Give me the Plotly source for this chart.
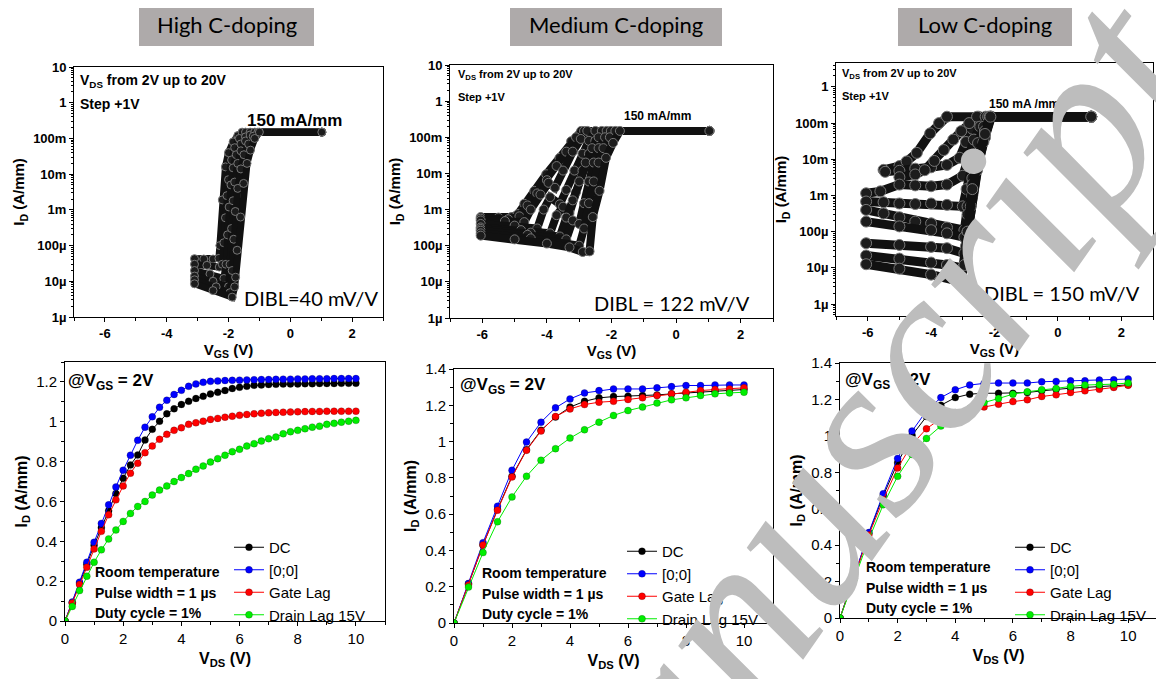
import plotly.graph_objects as go

# ---------------- Output characteristics (bottom row) ----------------
VDS_HIGH = [0, 0.25, 0.5, 0.75, 1, 1.25, 1.5, 1.75, 2, 2.25, 2.5, 2.75, 3, 3.25, 3.5, 3.75, 4, 4.25, 4.5, 4.75,
            5, 5.25, 5.5, 5.75, 6, 6.25, 6.5, 6.75, 7, 7.25, 7.5, 7.75, 8, 8.25, 8.5, 8.75, 9, 9.25, 9.5, 9.75, 10]
HIGH_DC = [0, 0.092, 0.19, 0.285, 0.38, 0.468, 0.553, 0.64, 0.717, 0.783, 0.833, 0.908, 0.962, 1.003, 1.04,
           1.065, 1.087, 1.103, 1.117, 1.128, 1.14, 1.148, 1.157, 1.167, 1.173, 1.178, 1.183, 1.185, 1.187, 1.188,
           1.189, 1.19, 1.19, 1.191, 1.191, 1.192, 1.192, 1.192, 1.193, 1.193, 1.193]
HIGH_00 = [0, 0.095, 0.195, 0.295, 0.395, 0.49, 0.583, 0.673, 0.757, 0.832, 0.907, 0.973, 1.025, 1.073, 1.108,
           1.137, 1.158, 1.178, 1.19, 1.198, 1.203, 1.205, 1.207, 1.208, 1.209, 1.21, 1.211, 1.212, 1.212, 1.213,
           1.214, 1.214, 1.215, 1.215, 1.216, 1.216, 1.216, 1.217, 1.217, 1.217, 1.217]
HIGH_GL = [0, 0.09, 0.183, 0.27, 0.362, 0.45, 0.533, 0.608, 0.678, 0.742, 0.792, 0.845, 0.878, 0.912, 0.937,
           0.957, 0.97, 0.987, 0.995, 1.003, 1.012, 1.017, 1.023, 1.028, 1.033, 1.037, 1.04, 1.043, 1.045, 1.047,
           1.048, 1.049, 1.05, 1.051, 1.052, 1.052, 1.053, 1.053, 1.053, 1.053, 1.053]
HIGH_DL = [0, 0.073, 0.153, 0.225, 0.295, 0.357, 0.412, 0.457, 0.5, 0.54, 0.575, 0.6, 0.632, 0.657, 0.678,
           0.7, 0.72, 0.74, 0.762, 0.778, 0.798, 0.815, 0.832, 0.85, 0.862, 0.878, 0.89, 0.903, 0.915, 0.923,
           0.94, 0.95, 0.957, 0.965, 0.973, 0.978, 0.987, 0.992, 0.998, 1.003, 1.007]

VDS_MED = [0, 0.5, 1, 1.5, 2, 2.5, 3, 3.5, 4, 4.5, 5, 5.5, 6, 6.5, 7, 7.5, 8, 8.5, 9, 9.5, 10]
MED_DC = [0, 0.216, 0.43, 0.626, 0.809, 0.955, 1.062, 1.135, 1.19, 1.222, 1.241, 1.248, 1.25, 1.254, 1.257,
          1.263, 1.268, 1.272, 1.277, 1.281, 1.287]
MED_00 = [0, 0.218, 0.443, 0.644, 0.842, 0.997, 1.107, 1.186, 1.235, 1.268, 1.281, 1.29, 1.29, 1.29, 1.296,
          1.303, 1.309, 1.309, 1.312, 1.312, 1.312]
MED_GL = [0, 0.21, 0.43, 0.622, 0.805, 0.952, 1.058, 1.138, 1.18, 1.204, 1.217, 1.222, 1.232, 1.241, 1.254,
          1.263, 1.272, 1.281, 1.287, 1.29, 1.296]
MED_DL = [0, 0.198, 0.388, 0.558, 0.695, 0.809, 0.897, 0.961, 1.019, 1.065, 1.107, 1.144, 1.171, 1.19, 1.212,
          1.23, 1.241, 1.254, 1.263, 1.268, 1.272]

VDS_LOW = [0, 0.5, 1, 1.5, 2, 2.5, 3, 3.5, 4, 4.5, 5, 5.5, 6, 6.5, 7, 7.5, 8, 8.5, 9, 9.5, 10]
LOW_DC = [0, 0.235, 0.465, 0.671, 0.852, 1.003, 1.106, 1.168, 1.21, 1.229, 1.234, 1.234, 1.234, 1.238, 1.247,
          1.256, 1.262, 1.266, 1.269, 1.275, 1.28]
LOW_00 = [0, 0.239, 0.469, 0.682, 0.876, 1.026, 1.137, 1.21, 1.253, 1.279, 1.288, 1.29, 1.29, 1.29, 1.297,
          1.299, 1.302, 1.302, 1.306, 1.308, 1.312]
LOW_GL = [0, 0.226, 0.456, 0.649, 0.824, 0.953, 1.039, 1.095, 1.128, 1.142, 1.159, 1.174, 1.188, 1.198, 1.216,
          1.225, 1.238, 1.247, 1.256, 1.266, 1.278]
LOW_DL = [0, 0.217, 0.432, 0.622, 0.778, 0.898, 0.986, 1.054, 1.109, 1.15, 1.183, 1.205, 1.229, 1.242, 1.253,
          1.26, 1.271, 1.279, 1.28, 1.284, 1.29]

SERIES_NAMES = ["DC", "[0;0]", "Gate Lag", "Drain Lag 15V"]
SERIES_COLORS = ["#000000", "#0000ff", "#ff0000", "#00ee00"]

# ---------------- Transfer characteristics (top row) ----------------
# High C-doping
H_VGS_1 = [-3.1, -2.8, -2.5, -2.31, -2.28, -2.2, -2.1, -2.0, -1.85, -1.7, -1.56, 1.02]
H_ID_1 = [4.3e-5, 4.2e-5, 4.2e-5, 4.4e-5, 1.0e-4, 1.9e-3, 1.6e-2, 4.0e-2, 8.0e-2, 1.2e-1, 1.5e-1, 1.5e-1]
H_VGS_2 = [-3.1, -2.7, -2.3, -2.2, -2.15, -2.1, -2.05, -2.0, -1.9, -1.8, -1.65, -1.45, 1.02]
H_ID_2 = [3.0e-5, 2.8e-5, 2.5e-5, 3.0e-5, 1.2e-4, 6e-4, 2.5e-3, 7e-3, 2.5e-2, 5.5e-2, 1.0e-1, 1.5e-1, 1.5e-1]
H_VGS_3 = [-3.1, -2.6, -2.15, -2.08, -2.03, -1.98, -1.92, -1.85, -1.75, -1.6, -1.45, -1.3, 1.02]
H_ID_3 = [2.0e-5, 1.6e-5, 1.2e-5, 3e-5, 2e-4, 1.2e-3, 5e-3, 1.5e-2, 3.5e-2, 7e-2, 1.1e-1, 1.5e-1, 1.5e-1]
H_VGS_4 = [-3.1, -2.5, -2.0, -1.95, -1.9, -1.85, -1.8, -1.7, -1.6, -1.45, -1.3, -1.15, 1.02]
H_ID_4 = [1.4e-5, 1.0e-5, 7e-6, 3e-5, 3e-4, 1.8e-3, 6e-3, 2e-2, 4.5e-2, 8.5e-2, 1.25e-1, 1.5e-1, 1.5e-1]
H_VGS_5 = [-3.1, -2.4, -1.95, -1.88, -1.83, -1.78, -1.7, -1.6, -1.5, -1.35, -1.2, -1.05, 1.02]
H_ID_5 = [1.1e-5, 7e-6, 4.8e-6, 2e-5, 1.5e-4, 9e-4, 4e-3, 1.4e-2, 3.5e-2, 7e-2, 1.15e-1, 1.5e-1, 1.5e-1]
H_VGS_6 = [-3.1, -2.5, -1.88, -1.8, -1.77, -1.72, -1.61, -1.51, -1.4, -1.29, -1.15, -1.0, 1.02]
H_ID_6 = [8.5e-6, 5.5e-6, 3.6e-6, 7e-6, 1.3e-5, 7.4e-5, 6.3e-4, 5.5e-3, 2e-2, 4.7e-2, 1.0e-1, 1.5e-1, 1.5e-1]

# Medium C-doping
M_VGS_1 = [-6.05, -5.5, -5.1, -4.9, -4.7, -4.39, -4.02, -3.61, -3.25, -2.94, 1.03]
M_ID_1 = [6.2e-4, 6.0e-4, 6.2e-4, 7.5e-4, 1.45e-3, 3.3e-3, 9.5e-3, 2.7e-2, 7.8e-2, 1.5e-1, 1.5e-1]
M_VGS_2 = [-6.05, -5.2, -4.85, -4.6, -4.3, -4.0, -3.7, -3.4, -3.1, -2.85, 1.03]
M_ID_2 = [5.6e-4, 5.4e-4, 6.5e-4, 1.3e-3, 2.8e-3, 6.5e-3, 1.6e-2, 4e-2, 1e-1, 1.5e-1, 1.5e-1]
M_VGS_3 = [-6.05, -5.3, -4.7, -4.5, -4.2, -3.95, -3.75, -3.5, -3.2, -2.95, -2.75, 1.03]
M_ID_3 = [5.0e-4, 4.8e-4, 4.5e-4, 1.0e-3, 2.6e-3, 5.5e-3, 4e-3, 1.2e-2, 4e-2, 9e-2, 1.5e-1, 1.5e-1]
M_VGS_4 = [-6.05, -5.0, -4.3, -4.1, -3.9, -3.6, -3.4, -3.15, -2.9, -2.7, -2.5, 1.03]
M_ID_4 = [4.0e-4, 3.6e-4, 3.0e-4, 1.0e-3, 2.2e-3, 1.4e-3, 3.5e-3, 1.2e-2, 3.5e-2, 8e-2, 1.5e-1, 1.5e-1]
M_VGS_5 = [-6.05, -4.8, -3.9, -3.7, -3.5, -3.3, -3.1, -2.9, -2.7, -2.5, -2.3, 1.03]
M_ID_5 = [3.2e-4, 2.7e-4, 2.2e-4, 7e-4, 1.2e-3, 8e-4, 3e-3, 1.2e-2, 3.5e-2, 8e-2, 1.5e-1, 1.5e-1]
M_VGS_6 = [-6.05, -4.5, -3.6, -3.4, -3.2, -3.0, -2.8, -2.6, -2.4, -2.15, 1.03]
M_ID_6 = [2.9e-4, 2.3e-4, 1.8e-4, 6e-4, 1.8e-3, 6e-3, 2e-2, 5e-2, 1e-1, 1.5e-1, 1.5e-1]
M_VGS_7 = [-6.05, -4.6, -3.4, -3.2, -3.0, -2.85, -2.7, -2.55, -2.4, -2.2, -2.02, 1.03]
M_ID_7 = [2.6e-4, 2.0e-4, 1.5e-4, 5e-4, 4e-4, 1.5e-3, 6e-3, 2e-2, 5e-2, 1.0e-1, 1.5e-1, 1.5e-1]
M_VGS_8 = [-6.05, -4.5, -3.0, -2.85, -2.7, -2.55, -2.4, -2.25, -2.05, -1.88, 1.03]
M_ID_8 = [2.2e-4, 1.6e-4, 1.0e-4, 3e-4, 1.5e-3, 6e-3, 2e-2, 5e-2, 1.0e-1, 1.5e-1, 1.5e-1]
M_VGS_9 = [-6.05, -5.0, -4.0, -3.3, -2.89, -2.68, -2.58, -2.37, -2.17, -1.95, -1.74, 1.03]
M_ID_9 = [1.9e-4, 1.5e-4, 1.15e-4, 9e-5, 6.7e-5, 7e-5, 6.2e-4, 3.3e-3, 2.7e-2, 7e-2, 1.5e-1, 1.5e-1]

# Low C-doping
L_VGS_1 = [-5.5, -5.0, -4.77, -4.45, -4.03, -3.75, -3.5, 1.05]
L_ID_1 = [5.1e-3, 6.5e-3, 8.7e-3, 1.5e-2, 5.2e-2, 1.0e-1, 1.5e-1, 1.5e-1]
L_VGS_2 = [-5.45, -5.0, -4.5, -4.0, -3.5, -3.1, -2.9, -2.7, -2.5, 1.05]
L_ID_2 = [4.5e-3, 4.8e-3, 5.5e-3, 6e-3, 7e-3, 1.1e-2, 3e-2, 7e-2, 1.5e-1, 1.5e-1]
L_VGS_3 = [-5.0, -4.5, -4.2, -3.9, -3.6, -3.3, -3.05, -2.8, -2.55, 1.05]
L_ID_3 = [3.2e-3, 3.8e-3, 5e-3, 9e-3, 1.8e-2, 3.5e-2, 6e-2, 1e-1, 1.5e-1, 1.5e-1]
L_VGS_4 = [-6.05, -5.6, -5.0, -4.5, -4.0, -3.5, -3.0, -2.85, -2.65, -2.45, -2.28, 1.05]
L_ID_4 = [1.15e-3, 1.3e-3, 2.0e-3, 1.9e-3, 1.8e-3, 2.0e-3, 3.5e-3, 9e-3, 3.5e-2, 8e-2, 1.5e-1, 1.5e-1]
L_VGS_5 = [-6.05, -5.5, -5.0, -4.5, -4.0, -3.5, -3.0, -2.88, -2.72, -2.52, -2.33, -2.2, 1.05]
L_ID_5 = [6.8e-4, 6.5e-4, 6.0e-4, 5.8e-4, 6e-4, 5.5e-4, 5e-4, 1.5e-3, 7e-3, 2.8e-2, 8e-2, 1.5e-1, 1.5e-1]
L_VGS_6 = [-6.05, -5.5, -5.0, -4.5, -4.0, -3.5, -2.95, -2.85, -2.7, -2.5, -2.3, -2.15, 1.05]
L_ID_6 = [4.0e-4, 3.2e-4, 2.5e-4, 1.9e-4, 1.7e-4, 1.3e-4, 1.1e-4, 5e-4, 3e-3, 1.5e-2, 6e-2, 1.5e-1, 1.5e-1]
L_VGS_7 = [-6.05, -5.0, -4.0, -3.5, -2.95, -2.85, -2.7, -2.5, -2.3, -2.12, 1.05]
L_ID_7 = [1.9e-4, 1.4e-4, 1.1e-4, 9e-5, 7e-5, 3e-4, 2e-3, 1.2e-2, 5e-2, 1.5e-1, 1.5e-1]
L_VGS_8 = [-6.05, -5.0, -4.0, -3.5, -2.95, -2.85, -2.7, -2.5, -2.3, -2.1, 1.05]
L_ID_8 = [4.8e-5, 4.3e-5, 3.8e-5, 3.5e-5, 2.5e-5, 1.0e-4, 1.0e-3, 8e-3, 4e-2, 1.5e-1, 1.5e-1]
L_VGS_9 = [-6.05, -5.0, -4.0, -3.5, -3.0, -2.9, -2.75, -2.55, -2.35, -2.12, 1.05]
L_ID_9 = [2.2e-5, 1.8e-5, 1.4e-5, 1.2e-5, 1.0e-5, 4e-5, 5e-4, 5e-3, 3e-2, 1.5e-1, 1.5e-1]
L_VGS_10 = [-6.05, -5.0, -4.0, -3.08, -2.95, -2.85, -2.7, -2.5, -2.3, -2.13, 1.05]
L_ID_10 = [1.26e-5, 9.5e-6, 6.5e-6, 4.2e-6, 1.2e-5, 1e-4, 1.5e-3, 1.2e-2, 5e-2, 1.5e-1, 1.5e-1]

LOG_TICKVALS = [10, 1, 0.1, 0.01, 0.001, 1e-4, 1e-5, 1e-6]
LOG_TICKTEXT = ["10", "1", "100m", "10m", "1m", "100µ", "10µ", "1µ"]

PANEL_TITLES = ["High C-doping", "Medium C-doping", "Low C-doping"]
DIBL_TEXT = ["DIBL=40 mV/V", "DIBL = 122 mV/V", "DIBL = 150 mV/V"]

# ---------------- layout helpers ----------------
# the page body has an 8px margin, so the figure is drawn 8px right/down
OFF = 8
FW, FH = 1156, 671

def X(x):
    return (x - OFF) / FW

def Y(y):
    return 1 - (y - OFF) / FH

def xd(a, b):
    return [X(a), X(b)]

def yd(top, bottom):
    return [Y(bottom), Y(top)]

FONT = "Liberation Sans"
fig = go.Figure()

top_sets = [
    (list(zip([H_VGS_1, H_VGS_2, H_VGS_3, H_VGS_4, H_VGS_5, H_VGS_6],
              [H_ID_1, H_ID_2, H_ID_3, H_ID_4, H_ID_5, H_ID_6])), "x", "y", 8, 7),
    (list(zip([M_VGS_1, M_VGS_2, M_VGS_3, M_VGS_4, M_VGS_5, M_VGS_6, M_VGS_7, M_VGS_8, M_VGS_9],
              [M_ID_1, M_ID_2, M_ID_3, M_ID_4, M_ID_5, M_ID_6, M_ID_7, M_ID_8, M_ID_9])), "x2", "y2", 9, 8),
    (list(zip([L_VGS_1, L_VGS_2, L_VGS_3, L_VGS_4, L_VGS_5, L_VGS_6, L_VGS_7, L_VGS_8, L_VGS_9, L_VGS_10],
              [L_ID_1, L_ID_2, L_ID_3, L_ID_4, L_ID_5, L_ID_6, L_ID_7, L_ID_8, L_ID_9, L_ID_10])), "x3", "y3", 11, 9),
]
for curves, xa, ya, ms, lw in top_sets:
    for vx, iy in curves:
        fig.add_trace(go.Scatter(
            x=vx, y=iy, mode="lines+markers", xaxis=xa, yaxis=ya, showlegend=False,
            hoverinfo="skip",
            line=dict(color="#111111", width=lw),
            marker=dict(size=ms, color="#1c1c1c", line=dict(color="#777777", width=1)),
        ))

bottom_sets = [
    (VDS_HIGH, [HIGH_DC, HIGH_00, HIGH_GL, HIGH_DL], "x4", "y4", "legend"),
    (VDS_MED, [MED_DC, MED_00, MED_GL, MED_DL], "x5", "y5", "legend2"),
    (VDS_LOW, [LOW_DC, LOW_00, LOW_GL, LOW_DL], "x6", "y6", "legend3"),
]
for vds, ys, xa, ya, lg in bottom_sets:
    for name, col, yv in zip(SERIES_NAMES, SERIES_COLORS, ys):
        fig.add_trace(go.Scatter(
            x=vds, y=yv, name=name, mode="lines+markers", xaxis=xa, yaxis=ya, legend=lg,
            line=dict(color=col, width=1),
            marker=dict(size=7, color=col, line=dict(color="rgba(0,0,0,0.35)", width=0.6)),
        ))

minor_log = [m * 10 ** d for d in range(-7, 1) for m in range(2, 10)]

def base_axis(**kw):
    d = dict(showline=True, linecolor="black", linewidth=1, mirror=True, showgrid=False,
             zeroline=False, ticks="outside", ticklen=4, tickcolor="black", automargin=False)
    d.update(kw)
    return d

top_dom = [(74, 383, 67, 317), (450, 773, 65, 318), (836, 1153, 63, 316)]
top_yrange = [[-6, 1], [-6, 1], [-6.33, 0.66]]
title_font_top = dict(family=FONT, size=15, color="black", weight="bold")
tick_font_top = dict(family=FONT, size=13, color="black", weight="bold")
for i, (x0, x1, y0, y1) in enumerate(top_dom):
    s = "" if i == 0 else str(i + 1)
    fig.layout["xaxis" + s] = base_axis(
        domain=xd(x0, x1), anchor="y" + s, range=[-7, 3],
        tickvals=[-6, -4, -2, 0, 2], ticktext=["-6", "-4", "-2", "0", "2"],
        minor=dict(tickvals=[-7, -5, -3, -1, 1, 3], ticks="outside", ticklen=3, tickcolor="black"),
        tickfont=tick_font_top,
        title=dict(text="V<sub>GS</sub> (V)", font=title_font_top, standoff=2))
    fig.layout["yaxis" + s] = base_axis(
        domain=yd(y0, y1), anchor="x" + s, type="log", range=top_yrange[i],
        tickvals=LOG_TICKVALS, ticktext=LOG_TICKTEXT,
        minor=dict(tickvals=minor_log, ticks="outside", ticklen=2, tickcolor="black"),
        tickfont=tick_font_top,
        title=dict(text="I<sub>D</sub> (A/mm)", font=title_font_top, standoff=4))

bot_dom = [(65, 385, 362, 621), (454, 773, 369, 623), (840, 1157, 363, 618)]
bot_yrange = [[0, 1.3], [0, 1.4], [0, 1.4]]
bot_ytick = [
    ([0, 0.2, 0.4, 0.6, 0.8, 1.0, 1.2], ["0", "0.2", "0.4", "0.6", "0.8", "1", "1.2"]),
    ([0, 0.2, 0.4, 0.6, 0.8, 1.0, 1.2, 1.4], ["0", "0.2", "0.4", "0.6", "0.8", "1", "1.2", "1.4"]),
    ([0, 0.2, 0.4, 0.6, 0.8, 1.0, 1.2, 1.4], ["0", "0.2", "0.4", "0.6", "0.8", "1", "1.2", "1.4"]),
]
tick_font_bot = dict(family=FONT, size=15, color="black")
for i, (x0, x1, y0, y1) in enumerate(bot_dom):
    s = str(i + 4)
    fig.layout["xaxis" + s] = base_axis(
        domain=xd(x0, x1), anchor="y" + s, range=[0, 11],
        tickvals=[0, 2, 4, 6, 8, 10],
        minor=dict(tickvals=[1, 3, 5, 7, 9, 11], ticks="outside", ticklen=3, tickcolor="black"),
        tickfont=tick_font_bot,
        title=dict(text="V<sub>DS</sub> (V)", font=dict(family=FONT, size=16, color="black", weight="bold"),
                   standoff=6))
    fig.layout["yaxis" + s] = base_axis(
        domain=yd(y0, y1), anchor="x" + s, range=bot_yrange[i],
        tickvals=bot_ytick[i][0], ticktext=bot_ytick[i][1],
        minor=dict(tickvals=[0.1, 0.3, 0.5, 0.7, 0.9, 1.1, 1.3], ticks="outside", ticklen=3, tickcolor="black"),
        tickfont=tick_font_bot,
        title=dict(text="I<sub>D</sub> (A/mm)", font=dict(family=FONT, size=16, color="black", weight="bold"),
                   standoff=4))

# legends
leg_pos = [(229, 531), (622, 535), (1010, 531)]
for i, (lx, ly) in enumerate(leg_pos):
    key = "legend" if i == 0 else "legend" + str(i + 1)
    fig.layout[key] = dict(x=X(lx), y=Y(ly), xanchor="left", yanchor="top",
                           bgcolor="rgba(0,0,0,0)", borderwidth=0, tracegroupgap=0,
                           font=dict(family=FONT, size=15, color="black"), itemwidth=30)

ann = []
# Panel title boxes
boxes = [(139, 314), (510, 722), (898, 1072)]
shapes = []
for (b0, b1), t in zip(boxes, PANEL_TITLES):
    shapes.append(dict(type="rect", xref="paper", yref="paper", x0=X(b0), x1=X(b1), y0=Y(46), y1=Y(4),
                       fillcolor="#aeaaaa", line=dict(width=0), layer="below"))
    ann.append(dict(text=t, x=X((b0 + b1) / 2), y=Y(25), xref="paper", yref="paper", showarrow=False,
                    xanchor="center", yanchor="middle", font=dict(family="Lato", size=22, color="black")))

# top panel texts
top_txt = [
    dict(v=(78, 81, 14), s=(78, 104, 14), c=(294, 120, 17), d=(380, 298, 20)),
    dict(v=(456, 75, 11), s=(456, 97, 11), c=(657, 116, 12), d=(752, 303, 20)),
    dict(v=(840, 74, 11), s=(840, 96, 11), c=(1024, 104, 12), d=(1142, 293, 20)),
]
for i, t in enumerate(top_txt):
    ann.append(dict(text="V<sub>DS</sub> from 2V up to 20V", x=X(t["v"][0]), y=Y(t["v"][1]),
                    xref="paper", yref="paper", showarrow=False, xanchor="left", yanchor="middle",
                    font=dict(family=FONT, size=t["v"][2], color="black", weight="bold")))
    ann.append(dict(text="Step +1V", x=X(t["s"][0]), y=Y(t["s"][1]),
                    xref="paper", yref="paper", showarrow=False, xanchor="left", yanchor="middle",
                    font=dict(family=FONT, size=t["s"][2], color="black", weight="bold")))
    ann.append(dict(text="150 mA/mm" if i < 2 else "150 mA /mm", x=X(t["c"][0]), y=Y(t["c"][1]),
                    xref="paper", yref="paper", showarrow=False, xanchor="center", yanchor="middle",
                    font=dict(family=FONT, size=t["c"][2], color="black", weight="bold")))
    ann.append(dict(text=DIBL_TEXT[i], x=X(t["d"][0]), y=Y(t["d"][1]),
                    xref="paper", yref="paper", showarrow=False, xanchor="right", yanchor="middle",
                    font=dict(family="Lato", size=t["d"][2], color="black")))

# bottom panel texts
bot_txt = [((66, 382), (93, 572)), ((458, 386), (480, 573)), ((843, 381), (864, 567))]
for (gx, gy), (nx, ny) in bot_txt:
    ann.append(dict(text="@V<sub>GS</sub> = 2V", x=X(gx), y=Y(gy), xref="paper", yref="paper",
                    showarrow=False, xanchor="left", yanchor="middle",
                    font=dict(family=FONT, size=17, color="black", weight="bold")))
    for k, line in enumerate(["Room temperature", "Pulse width = 1 µs", "Duty cycle = 1%"]):
        ann.append(dict(text=line, x=X(nx), y=Y(ny + 20.5 * k), xref="paper", yref="paper",
                        showarrow=False, xanchor="left", yanchor="middle",
                        font=dict(family=FONT, size=14, color="black", weight="bold")))

# watermark
ann.append(dict(text="<i>manuscript</i>", x=X(837), y=Y(470), xref="paper", yref="paper", showarrow=False,
                xanchor="center", yanchor="middle", textangle=-55,
                font=dict(family="Liberation Serif", size=240, color="#bdbdbd")))

fig.update_layout(width=FW, height=FH, margin=dict(l=0, r=0, t=0, b=0, autoexpand=False),
                  paper_bgcolor="white", plot_bgcolor="white",
                  annotations=ann, shapes=shapes)

fig.write_html("out.html")
